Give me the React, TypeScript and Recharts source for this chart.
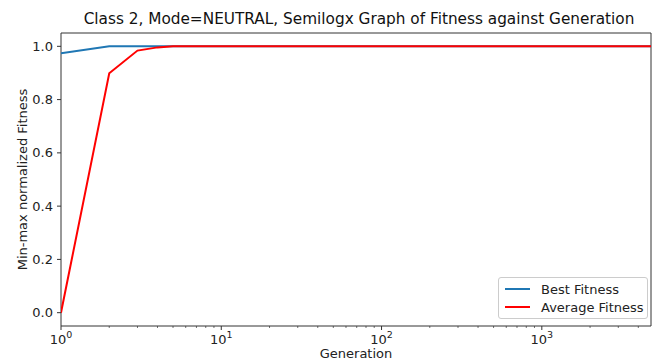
import React from "react";
import {
  LineChart,
  Line,
  XAxis,
  YAxis,
  ReferenceArea,
  Legend,
} from "recharts";

const generations = [1, 2, 3, 4, 5, 10, 100, 1000, 4800];
const bestFitness = [0.974, 1.0, 1.0, 1.0, 1.0, 1.0, 1.0, 1.0, 1.0];
const avgFitness = [0.0, 0.899, 0.984, 0.996, 1.0, 1.0, 1.0, 1.0, 1.0];

const yTicks = [0, 0.2, 0.4, 0.6, 0.8, 1.0];
const majorTicks = [1, 10, 100, 1000];

const xMax = 4800;

const data = generations.map((g, i) => ({
  gen: g,
  best: bestFitness[i],
  avg: avgFitness[i],
}));

// major + minor ticks for the log axis
const xTicks: number[] = [];
for (const m of majorTicks) {
  for (let k = 1; k <= 9; k++) {
    const v = m * k;
    if (v <= xMax) xTicks.push(v);
  }
}

const FONT = "'DejaVu Sans', sans-serif";
const TXT = "#222";

const LogTick = (props: any) => {
  const { x, y, payload } = props;
  const v = payload.value;
  const exp = Math.round(Math.log10(v));
  const isMajor = Math.abs(Math.pow(10, exp) - v) < 1e-9;
  return (
    <g>
      <line
        x1={x}
        x2={x}
        y1={y}
        y2={y + (isMajor ? 4 : 2)}
        stroke="#333"
        strokeWidth={isMajor ? 1 : 0.7}
      />
      {isMajor && (
        <text x={x} y={y + 18} textAnchor="middle" fontSize={13} fill={TXT} fontFamily={FONT}>
          10
          <tspan dy={-6} fontSize={9.5}>
            {exp}
          </tspan>
        </text>
      )}
    </g>
  );
};

const XLabel = (props: any) => {
  const { viewBox } = props;
  return (
    <text
      x={viewBox.x + viewBox.width / 2}
      y={358}
      textAnchor="middle"
      fontSize={13}
      fill={TXT}
      fontFamily={FONT}
    >
      Generation
    </text>
  );
};

const YLabel = (props: any) => {
  const { viewBox } = props;
  const cy = viewBox.y + viewBox.height / 2;
  return (
    <text
      x={22}
      y={cy}
      transform={`rotate(-90, 22, ${cy})`}
      textAnchor="middle"
      dominantBaseline="central"
      fontSize={13}
      fill={TXT}
      fontFamily={FONT}
    >
      Min-max normalized Fitness
    </text>
  );
};

const LegendBox = () => (
  <div
    style={{
      border: "1px solid #ccc",
      borderRadius: 3,
      background: "white",
      padding: "2px 4px 2px 6px",
      fontFamily: FONT,
      fontSize: 13,
      color: TXT,
      boxSizing: "border-box",
      width: 150,
      whiteSpace: "nowrap",
    }}
  >
    {[
      { label: "Best Fitness", color: "#1f77b4" },
      { label: "Average Fitness", color: "#ff0000" },
    ].map((it) => (
      <div key={it.label} style={{ display: "flex", alignItems: "center", height: 18 }}>
        <span
          style={{
            display: "inline-block",
            flex: "none",
            width: 25,
            height: 2,
            background: it.color,
            marginRight: 11,
          }}
        />
        {it.label}
      </div>
    ))}
  </div>
);

export default function App() {
  return (
    <div style={{ position: "absolute", left: 0, top: 0, width: 655, height: 360, background: "white" }}>
      <div
        style={{
          position: "absolute",
          left: 0,
          width: 718,
          top: 10,
          textAlign: "center",
          fontFamily: FONT,
          fontSize: 15.3,
          color: "#111",
          whiteSpace: "nowrap",
        }}
      >
        Class 2, Mode=NEUTRAL, Semilogx Graph of Fitness against Generation
      </div>
      <LineChart
        width={655}
        height={360}
        data={data}
        margin={{ top: 33, right: 4, bottom: 0, left: 0 }}
      >
        <XAxis
          dataKey="gen"
          type="number"
          scale="log"
          domain={[1, xMax]}
          ticks={xTicks}
          interval={0}
          allowDataOverflow
          axisLine={false}
          tickLine={false}
          tickSize={0}
          tickMargin={0}
          tick={<LogTick />}
          height={34}
          label={<XLabel />}
        />
        <YAxis
          type="number"
          domain={[-0.05, 1.05]}
          ticks={yTicks}
          interval={0}
          allowDataOverflow
          width={61}
          axisLine={false}
          tickSize={4}
          tickMargin={4}
          tickLine={{ stroke: "#333" }}
          tickFormatter={(v: number) => v.toFixed(1)}
          tick={{ fontFamily: FONT, fontSize: 13, fill: TXT }}
          label={<YLabel />}
        />
        <ReferenceArea
          x1={1}
          x2={xMax}
          y1={-0.05}
          y2={1.05}
          fill="none"
          stroke="#333"
          strokeWidth={1}
          ifOverflow="visible"
        />
        <Line
          dataKey="best"
          name="Best Fitness"
          stroke="#1f77b4"
          strokeWidth={2}
          dot={false}
          isAnimationActive={false}
        />
        <Line
          dataKey="avg"
          name="Average Fitness"
          stroke="#ff0000"
          strokeWidth={2}
          dot={false}
          isAnimationActive={false}
        />
        <Legend
          layout="horizontal"
          verticalAlign="middle"
          align="center"
          content={<LegendBox />}
          wrapperStyle={{ left: 498, top: 277, width: 150 }}
        />
      </LineChart>
    </div>
  );
}
